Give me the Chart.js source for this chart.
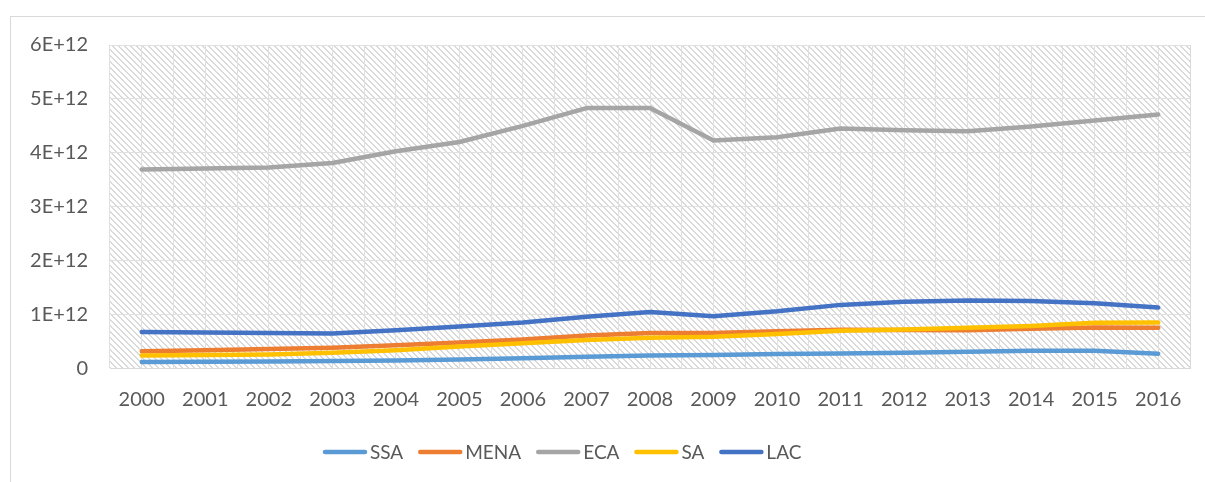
<!DOCTYPE html>
<html>
<head>
<meta charset="utf-8">
<script src="https://cdn.jsdelivr.net/npm/chart.js@4.4.1/dist/chart.umd.min.js"></script>
<style>
  html, body { margin: 0; padding: 0; background: #ffffff; overflow: hidden; }
  #frame { position: absolute; left: 10px; top: 16px; width: 1400px; height: 700px; border: 1px solid #d9d9d9; box-sizing: border-box; }
  #wrap { position: absolute; left: 0; top: 0; width: 1205px; height: 482px; }
</style>
</head>
<body>
<div id="frame"></div>
<div id="wrap"><canvas id="c" width="1205" height="482"></canvas></div>
<script>
// ---- data (values in units of 1E+12) ----
const years = ['2000','2001','2002','2003','2004','2005','2006','2007','2008','2009','2010','2011','2012','2013','2014','2015','2016'];
const ssa  = [0.12, 0.125, 0.13, 0.14, 0.15, 0.165, 0.19, 0.22, 0.24, 0.25, 0.27, 0.28, 0.29, 0.31, 0.33, 0.33, 0.275];
const mena = [0.32, 0.34, 0.36, 0.385, 0.43, 0.48, 0.54, 0.61, 0.66, 0.66, 0.69, 0.72, 0.715, 0.71, 0.735, 0.76, 0.755];
const eca  = [3.69, 3.71, 3.73, 3.81, 4.03, 4.20, 4.50, 4.83, 4.83, 4.23, 4.29, 4.45, 4.42, 4.40, 4.49, 4.60, 4.71];
const sa   = [0.24, 0.25, 0.26, 0.29, 0.34, 0.41, 0.47, 0.53, 0.57, 0.59, 0.64, 0.70, 0.725, 0.755, 0.79, 0.85, 0.855];
const lac  = [0.675, 0.67, 0.66, 0.65, 0.71, 0.78, 0.855, 0.96, 1.05, 0.97, 1.06, 1.18, 1.24, 1.26, 1.25, 1.21, 1.13];
const seriesNames = ['SSA', 'MENA', 'ECA', 'SA', 'LAC'];
const yTickLabels = ['0', '1E+12', '2E+12', '3E+12', '4E+12', '5E+12', '6E+12'];

const colors = ['#5B9BD5', '#ED7D31', '#A5A5A5', '#FFC000', '#4472C4'];
const seriesData = [ssa, mena, eca, sa, lac];

// hatch pattern
function makePattern() {
  const t = document.createElement('canvas');
  t.width = 6; t.height = 6;
  const g = t.getContext('2d');
  g.fillStyle = '#ffffff';
  g.fillRect(0, 0, 6, 6);
  g.fillStyle = '#dadada';
  for (let y = 0; y < 6; y++) {
    for (let x = 0; x < 6; x++) {
      const d = ((x - y) % 6 + 6) % 6;
      if (d === 0 || d === 1) g.fillRect(x, y, 1, 1);
    }
  }
  return t;
}
const patternCanvas = makePattern();

const FONT = 'Lato';
const FSIZE = 20;
const TXT = '#595959';
const GRID = '#e0e0e0';

const bgPlugin = {
  id: 'hatchBg',
  beforeDraw(chart) {
    const { ctx, chartArea: a } = chart;
    ctx.save();
    ctx.fillStyle = ctx.createPattern(patternCanvas, 'repeat');
    ctx.fillRect(a.left, a.top, a.right - a.left, a.bottom - a.top);
    ctx.restore();
  }
};

// legend drawn from the chart's datasets (Excel-like spacing)
const legendPlugin = {
  id: 'excelLegend',
  afterDraw(chart) {
    const { ctx } = chart;
    const startX = 323, cy = 452, lineLen = 44, textGap = 3, itemGap = 15;
    ctx.save();
    ctx.font = '19px ' + FONT;
    ctx.textBaseline = 'middle';
    ctx.textAlign = 'left';
    let x = startX;
    chart.data.datasets.forEach((ds) => {
      ctx.strokeStyle = ds.borderColor;
      ctx.lineWidth = 4.5;
      ctx.lineCap = 'round';
      ctx.beginPath();
      ctx.moveTo(x + 2, cy);
      ctx.lineTo(x + lineLen - 2, cy);
      ctx.stroke();
      ctx.fillStyle = TXT;
      ctx.fillText(ds.label, x + lineLen + textGap, cy + 1);
      x += lineLen + textGap + ctx.measureText(ds.label).width + itemGap;
    });
    ctx.restore();
  }
};

const datasets = seriesNames.map((name, i) => ({
  label: name,
  data: seriesData[i],
  borderColor: colors[i],
  backgroundColor: colors[i],
  borderWidth: 4.5,
  pointRadius: 0,
  pointHoverRadius: 0,
  tension: 0,
  borderCapStyle: 'round',
  borderJoinStyle: 'round',
  fill: false,
  order: seriesNames.length - i
}));

new Chart(document.getElementById('c'), {
  type: 'line',
  data: { labels: years, datasets },
  plugins: [bgPlugin, legendPlugin],
  options: {
    responsive: false,
    animation: false,
    events: [],
    layout: { padding: { left: 0, right: 15, top: 45, bottom: 58.5 } },
    scales: {
      x: {
        type: 'category',
        offset: true,
        grid: { display: true, offset: true, color: GRID, lineWidth: 1, drawTicks: false },
        border: { display: true, color: '#d9d9d9', width: 1 },
        ticks: { color: TXT, font: { family: FONT, size: FSIZE }, padding: 19, maxRotation: 0, autoSkip: false },
        afterFit(s) { s.height = 55; }
      },
      x2: {
        type: 'category',
        offset: true,
        position: 'bottom',
        display: true,
        grid: { display: true, offset: false, color: GRID, lineWidth: 1, drawTicks: false },
        border: { display: false },
        ticks: { display: false },
        afterFit(s) { s.height = 0; }
      },
      y: {
        min: 0,
        max: 6,
        grid: { color: GRID, lineWidth: 1, drawTicks: false },
        border: { display: false },
        ticks: {
          stepSize: 1,
          color: TXT,
          font: { family: FONT, size: FSIZE },
          padding: 22,
          callback: (v) => yTickLabels[Math.round(v)]
        },
        afterFit(s) { s.width = 110; }
      },
      yr: {
        position: 'right',
        min: 0, max: 6,
        grid: { display: false },
        border: { display: true, color: '#d9d9d9', width: 1 },
        ticks: { display: false },
        afterFit(s) { s.width = 0; }
      }
    },
    plugins: {
      legend: { display: false },
      tooltip: { enabled: false },
      title: { display: false }
    }
  }
});
</script>
</body>
</html>
